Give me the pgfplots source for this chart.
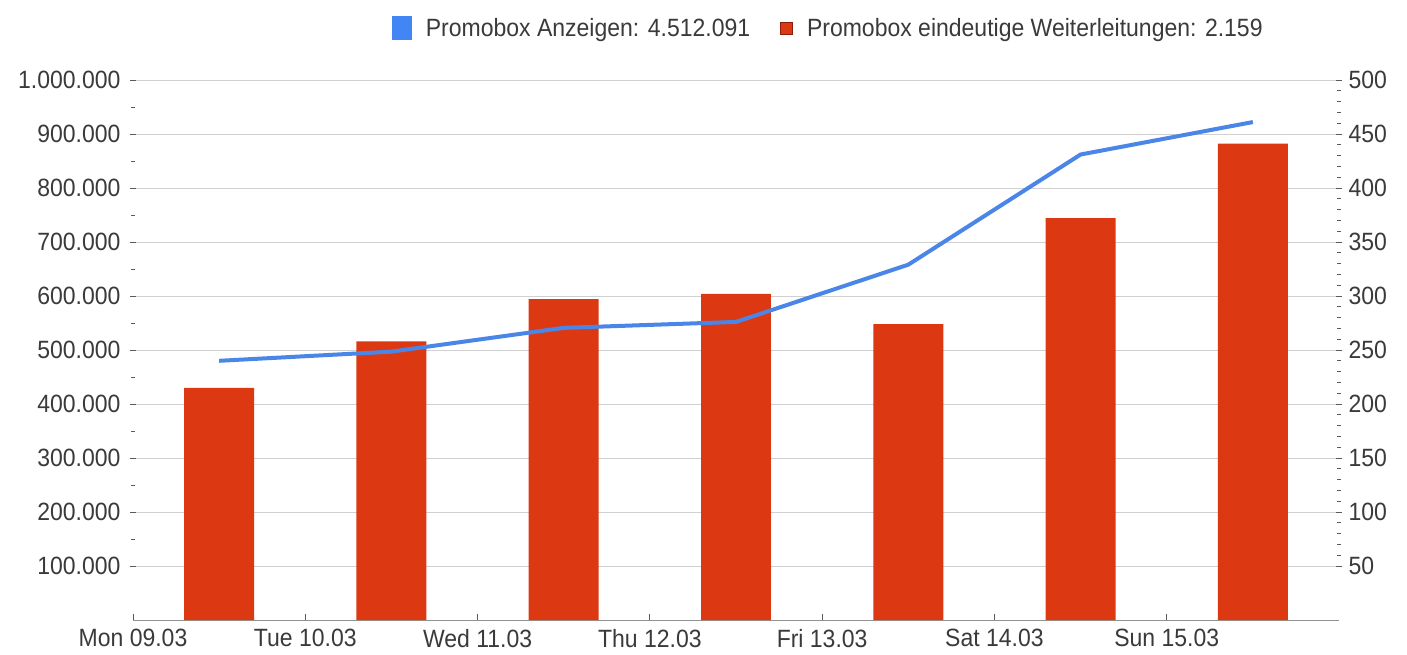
\documentclass[border=0pt]{standalone}
\usepackage{fontspec}
\setmainfont{Liberation Sans}[FakeStretch=0.92]
\usepackage{pgfplots}
\pgfplotsset{compat=1.18}
\definecolor{barred}{HTML}{DC3912}
\definecolor{barborder}{HTML}{8A1E08}
\definecolor{lineblue}{HTML}{4A86E8}
\definecolor{legblue}{HTML}{4285F4}
\definecolor{txt}{HTML}{3A3A3A}
\definecolor{gridc}{HTML}{D0D0D0}
\definecolor{tickc}{HTML}{5A5A5A}
\newcommand\lab{\fontsize{25bp}{30bp}\selectfont}
\begin{document}
\begin{tikzpicture}
\pgfplotsset{
  common/.style={
    width=1206bp, height=540bp, scale only axis,
    xmin=0, xmax=7,
    tick label style={font=\lab, text=txt},
    /pgf/number format/assume math mode=true,
    /pgf/number format/fixed,
    /pgf/number format/precision=0,
    /pgf/number format/1000 sep={.},
    scaled y ticks=false,
    major tick length=6bp, minor tick length=4bp,
    tick style={tickc, line width=0.8bp},
  }
}
% bars on right axis
\begin{axis}[common, name=bars,
  ymin=0, ymax=500,
  axis x line=bottom, axis y line*=right,
  x axis line style={-, color=gray!85, line width=1bp},
  y axis line style={draw=none},
  xtick={0,1,2,3,4,5,6},
  xticklabels={Mon 09.03,Tue 10.03,Wed 11.03,Thu 12.03,Fri 13.03,Sat 14.03,Sun 15.03},
  xtick align=inside,
  xticklabel style={yshift=-6bp},
  ytick={50,100,...,500},
  minor y tick num=4,
  ytick align=center,
  yticklabel style={xshift=3bp},
  ymajorgrids, grid style={gridc, line width=0.9bp},
]
\addplot[ybar, bar width=0.406, fill=barred, draw=none] coordinates {
  (0.5,215) (1.5,258) (2.5,297) (3.5,302) (4.5,274) (5.5,372) (6.5,441)
};
\end{axis}
% line on left axis
\begin{axis}[common,
  ymin=0, ymax=1000000,
  axis y line*=left, axis x line=none,
  y axis line style={draw=none},
  ytick={100000,200000,...,1000000},
  minor y tick num=1,
  ytick align=center,
  yticklabel style={xshift=-6bp},
  legend style={at={(0.215,1.096)}, anchor=west, draw=none, fill=none,
    font=\lab, text=txt, inner sep=0pt,
    /tikz/every odd column/.append style={column sep=12bp},
    /tikz/every even column/.append style={column sep=28bp}},
  legend columns=2, legend cell align=left,
]
\addlegendimage{legend image code/.code={\fill[legblue] (0bp,-11.5bp) rectangle (19bp,11.5bp);}}
\addlegendentry{Promobox Anzeigen: 4.512.091}
\addlegendimage{legend image code/.code={\filldraw[fill=barred, draw=barborder, line width=0.8bp] (7bp,-6bp) rectangle (19bp,6bp);}}
\addlegendentry{Promobox eindeutige Weiterleitungen: 2.159}
\addplot[lineblue, line width=4bp, line join=round, line cap=butt, mark=none] coordinates {
  (0.5,480000) (1.5,497000) (2.5,541000) (3.5,552000) (4.5,658000) (5.5,862000) (6.5,922091)
};
\end{axis}
\pgfresetboundingbox
\path ([shift={(-133bp,-34bp)}]bars.south west) rectangle ([shift={(68bp,80bp)}]bars.north east);
\end{tikzpicture}
\end{document}
